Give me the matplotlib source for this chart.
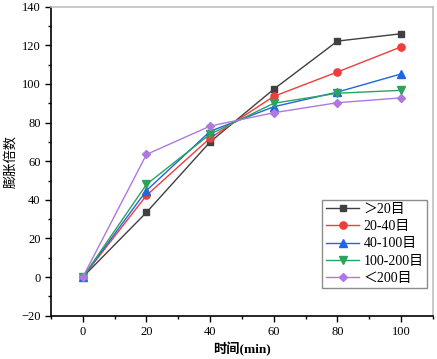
import numpy as np
import matplotlib
matplotlib.use("Agg")
import matplotlib.pyplot as plt
from matplotlib.ticker import MultipleLocator

plt.rcParams['font.family'] = ['Liberation Serif', 'Noto Sans CJK SC']

# data
times = [0, 20, 40, 60, 80, 100]
labels = ['＞20目', '20-40目', '40-100目', '100-200目', '＜200目']
gt20 = [0, 33.5, 70, 97.3, 122.2, 126]
m20_40 = [0, 42.3, 72, 93.6, 106.2, 119.2]
m40_100 = [0, 44.8, 75.5, 88.2, 95.8, 105.2]
m100_200 = [0, 48, 74, 90, 95.2, 96.7]
lt200 = [0, 63.5, 78.2, 85.1, 90.3, 92.8]

series = [gt20, m20_40, m40_100, m100_200, lt200]
colors = ['#404040', '#f03c3c', '#1f66e0', '#2ca35c', '#ae78e0']
markers = ['s', 'o', '^', 'v', 'D']
sizes = [4.5, 5.2, 5.2, 5.2, 4.5]

fig = plt.figure(figsize=(4.37, 3.59), dpi=100)
ax = fig.add_axes([0.1167, 0.1206, 0.874, 0.8607])

for y, lab, c, m, s in zip(series, labels, colors, markers, sizes):
    ax.plot(times, y, color=c, marker=m, markersize=s, linewidth=1.0, label=lab)

ax.set_xlim(-10, 110)
ax.set_ylim(-20, 140)
ax.xaxis.set_major_locator(MultipleLocator(20))
ax.xaxis.set_minor_locator(MultipleLocator(10))
ax.yaxis.set_major_locator(MultipleLocator(20))
ax.yaxis.set_minor_locator(MultipleLocator(10))
ax.tick_params(which='major', direction='out', length=4, width=1, labelsize=9)
ax.tick_params(which='minor', direction='out', length=2.5, width=1)

for side in ['top', 'right']:
    ax.spines[side].set_color('#c0c0c0')
    ax.spines[side].set_linewidth(1.2)
for side in ['left', 'bottom']:
    ax.spines[side].set_linewidth(1.2)

ax.set_xlabel('时间(min)', fontsize=9.5, fontweight='bold', labelpad=3)
ax.set_ylabel('膨胀倍数', fontsize=9.5, labelpad=3)

leg = ax.legend(loc='lower right', bbox_to_anchor=(0.984, 0.089), fontsize=10,
                frameon=True, fancybox=False, edgecolor='#707070',
                handlelength=2.4, borderpad=0.25, labelspacing=0.3,
                handletextpad=0.3, borderaxespad=0)
leg.get_frame().set_linewidth(1.0)

fig.savefig('out.png', dpi=100)
